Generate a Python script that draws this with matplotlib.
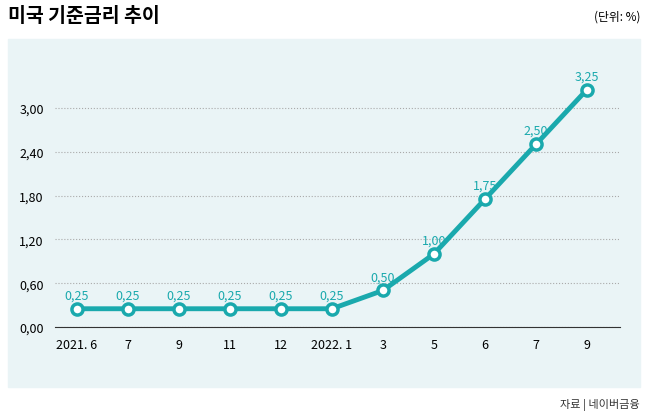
import matplotlib.pyplot as plt
from matplotlib.patches import Rectangle

plt.rcParams['font.family'] = ['Noto Sans CJK KR', 'DejaVu Sans']

months = ['2021. 6', '7', '9', '11', '12', '2022. 1', '3', '5', '6', '7', '9']
rates = [0.25, 0.25, 0.25, 0.25, 0.25, 0.25, 0.50, 1.00, 1.75, 2.50, 3.25]
yticks = [0.0, 0.6, 1.2, 1.8, 2.4, 3.0]

teal = '#1aa9ad'
fig = plt.figure(figsize=(6.5, 4.14), dpi=100)
fig.patches.append(Rectangle((8/650, 1-388/414), 632/650, 348/414,
                             transform=fig.transFigure, color='#eaf4f6', zorder=-10))
fig.text(8/650, 1-17/414, '미국 기준금리 추이', fontsize=14, fontweight='bold', va='center')
fig.text(640/650, 1-17/414, '(단위: %)', fontsize=8.5, ha='right', va='center')
fig.text(640/650, 1-405/414, '자료 | 네이버금융', fontsize=8, ha='right', va='center', color='#333333')

ax = fig.add_axes([55/650, 1-328/414, 565/650, 268/414])
ax.set_facecolor('none')
x = list(range(len(months)))
ax.plot(x, rates, color=teal, lw=3.5, marker='o', ms=8, mfc='white', mec=teal, mew=2.5, zorder=3)
for xi, r in zip(x, rates):
    ax.text(xi, r + 0.1, f'{r:.2f}'.replace('.', ','), ha='center', va='bottom',
            color=teal, fontsize=9)
ax.set_xlim(-0.43, 10.65)
ax.set_ylim(0, 3.67)
ax.set_yticks(yticks)
ax.set_yticklabels([f'{v:.2f}'.replace('.', ',') for v in yticks], fontsize=9)
ax.set_xticks(x)
ax.set_xticklabels(months, fontsize=9)
ax.tick_params(length=0, pad=8)
ax.grid(axis='y', ls=':', color='#aaaaaa', lw=0.8)
for s in ['top', 'right', 'left']:
    ax.spines[s].set_visible(False)
ax.spines['bottom'].set_color('#333333')

fig.savefig('out.png', dpi=100)
